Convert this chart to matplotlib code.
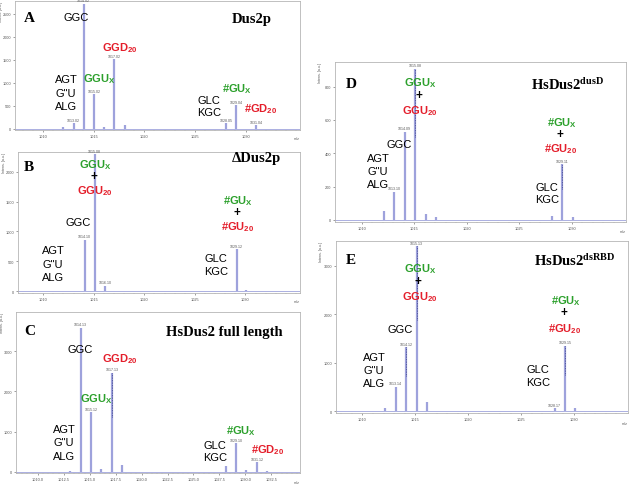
import numpy as np
import matplotlib.pyplot as plt
from matplotlib.ticker import MultipleLocator, FormatStrFormatter

plt.rcParams['font.family'] = ['Liberation Sans', 'DejaVu Sans']
plt.rcParams['mathtext.fontset'] = 'custom'
plt.rcParams['mathtext.rm'] = 'Liberation Sans'
plt.rcParams['mathtext.bf'] = 'Liberation Sans:bold'
plt.rcParams['mathtext.it'] = 'Liberation Serif:bold'

W, H = 630, 485
fig = plt.figure(figsize=(W / 100, H / 100), dpi=100)

peak_col = '#9ea2dc'
green = '#2ca02c'
red = '#e41e2b'

# Peaks per panel: m/z, intensity, printed peak label
A_mz = [1012.0, 1013.02, 1014.02, 1015.02, 1016.05, 1017.02, 1018.1, 1028.05, 1029.04, 1031.04]
A_int = [44, 117, 2720, 752, 30, 1518, 70, 117, 511, 73]
A_lab = ['', '1013.02', '1014.02', '1015.02', '', '1017.02', '', '1028.05', '1029.04', '1031.04']

B_mz = [1014.10, 1015.08, 1016.10, 1029.12, 1030.1]
B_int = [860, 2290, 93, 705, 20]
B_lab = ['1014.10', '1015.08', '1016.10', '1029.12', '']

C_mz = [1013.1, 1014.13, 1015.12, 1016.1, 1017.13, 1018.1, 1028.1, 1029.10, 1030.1, 1031.12, 1032.1]
C_int = [25, 3590, 1490, 70, 2470, 170, 150, 710, 30, 230, 20]
C_lab = ['', '1014.13', '1015.12', '', '1017.13', '', '', '1029.10', '', '1031.12', '']

D_mz = [1012.1, 1013.10, 1014.09, 1015.08, 1016.1, 1017.1, 1028.1, 1029.11, 1030.1]
D_int = [56, 170, 530, 907, 36, 16, 26, 336, 16]
D_lab = ['', '1013.10', '1014.09', '1015.08', '', '', '', '1029.11', '']

E_mz = [1012.1, 1013.14, 1014.12, 1015.13, 1016.1, 1028.17, 1029.15, 1030.1]
E_int = [69, 509, 1320, 3400, 200, 69, 1354, 62]
E_lab = ['', '1013.14', '1014.12', '1015.13', '', '1028.17', '1029.15', '']

# peaks drawn with the dark dotted "picked" overlay
C_pick = [1017.13]
D_pick = [1015.08, 1029.11]
E_pick = [1014.12, 1015.13, 1029.15]

ticks5 = [1010, 1015, 1020, 1025, 1030]
ticksC = [1010.0, 1012.5, 1015.0, 1017.5, 1020.0, 1022.5, 1025.0, 1027.5, 1030.0, 1032.5]


def panel(box, xlim, ylim, ystep, xticks, xminor, xfmt, mz, inten, labs, picks=()):
    l, t, r, b = box
    ax = fig.add_axes([l / W, 1 - b / H, (r - l) / W, (b - t) / H])
    ax.axhline(0, color=peak_col, lw=0.6, zorder=1)
    ax.vlines(mz, 0, inten, color=peak_col, lw=1.6, zorder=2)
    for m, h in zip(mz, inten):
        if m in picks:
            ax.vlines(m, h * 0.55, h, color='#3a3f8a', lw=0.6, ls=(0, (1, 1)), zorder=3)
    for m, h, s in zip(mz, inten, labs):
        if s:
            ax.annotate(s, (m, h), xytext=(0, 1), textcoords='offset points',
                        ha='center', va='bottom', fontsize=2.6, color='#555555')
    ax.set_xlim(*xlim)
    ax.set_ylim(*ylim)
    ax.set_xticks(xticks)
    ax.xaxis.set_minor_locator(MultipleLocator(xminor))
    ax.xaxis.set_major_formatter(FormatStrFormatter(xfmt))
    ax.yaxis.set_major_locator(MultipleLocator(ystep))
    ax.tick_params(labelsize=2.8, length=1.6, width=0.4, colors='#555555', pad=1.2)
    ax.tick_params(which='minor', length=1.0, width=0.3, colors='#777777')
    for sp in ax.spines.values():
        sp.set_color('#b5b5b5')
        sp.set_linewidth(0.6)
    ax.text(-0.05, 1.0, 'Intens. [a.u.]', transform=ax.transAxes, rotation=90,
            ha='center', va='top', fontsize=2.6, color='#555555')
    ax.text(0.99, -0.045, 'm/z', transform=ax.transAxes, ha='center', va='top',
            fontsize=2.6, color='#555555')
    return ax


panel((15, 2, 300, 131), (1007.24, 1035.37), (-31, 2783), 500, ticks5, 1, '%d', A_mz, A_int, A_lab)
panel((18, 153, 300, 294), (1007.5, 1035.4), (-28, 2327), 500, ticks5, 1, '%d', B_mz, B_int, B_lab)
panel((16, 313, 300, 474), (1007.9, 1035.26), (-33, 3980), 1000, ticksC, 0.5, '%.1f', C_mz, C_int, C_lab, C_pick)
panel((335, 63, 626, 223), (1007.46, 1035.17), (-12, 947), 200, ticks5, 1, '%d', D_mz, D_int, D_lab, D_pick)
panel((336, 242, 628, 414), (1007.5, 1035.1), (-35, 3505), 1000, ticks5, 1, '%d', E_mz, E_int, E_lab, E_pick)


def say(s, x, y, kind):
    # x, y: pixel centre of the capital letters
    if kind == 'id':
        fig.text(x / W, 1 - (y + 5) / H, s, ha='center', va='baseline', fontsize=11,
                 family='Liberation Serif', weight='bold')
    elif kind == 't':
        fig.text(x / W, 1 - (y + 4.5) / H, s, ha='center', va='baseline', fontsize=10.5,
                 family='Liberation Serif', weight='bold')
    elif kind == '+':
        fig.text(x / W, 1 - y / H, '+', ha='center', va='center', fontsize=8.5, weight='bold')
    else:
        col = {'k': 'black', 'g': green, 'r': red}[kind]
        fig.text(x / W, 1 - (y + 4) / H, s, ha='center', va='baseline', fontsize=8,
                 color=col, weight='normal' if kind == 'k' else 'bold')


gx = r'GGU$_\mathbf{X}$'
gd = r'GGD$_\mathbf{20}$'
gu = r'GGU$_\mathbf{20}$'
hx = r'#GU$_\mathbf{X}$'
hd = r'#GD$_\mathbf{20}$'
hu = r'#GU$_\mathbf{20}$'

notes = [
    # A
    ('A', 29, 17, 'id'), ('Dus2p', 252, 19, 't'), ('GGC', 76, 17, 'k'), (gd, 120, 48, 'r'),
    ('AGT', 66, 79, 'k'), ('G"U', 66, 93, 'k'), ('ALG', 66, 106, 'k'), (gx, 99, 79, 'g'),
    (hx, 237, 88, 'g'), ('GLC', 209, 100, 'k'), ('KGC', 209, 112, 'k'), (hd, 261, 109, 'r'),
    # B
    ('B', 29, 166, 'id'), ('ΔDus2p', 256, 158, 't'), (gx, 95, 164, 'g'), ('+', 94, 177, '+'),
    (gu, 95, 191, 'r'), ('GGC', 78, 222, 'k'), ('AGT', 53, 250, 'k'), ('G"U', 53, 264, 'k'),
    ('ALG', 53, 277, 'k'), (hx, 238, 200, 'g'), ('+', 237, 213, '+'), (hu, 238, 227, 'r'),
    ('GLC', 216, 258, 'k'), ('KGC', 216, 271, 'k'),
    # C
    ('C', 30, 330, 'id'), ('HsDus2 full length', 224, 332, 't'), ('GGC', 80, 349, 'k'),
    (gd, 120, 359, 'r'), (gx, 96, 398, 'g'), ('AGT', 64, 429, 'k'), ('G"U', 64, 442, 'k'),
    ('ALG', 64, 456, 'k'), (hx, 241, 431, 'g'), ('GLC', 215, 445, 'k'), ('KGC', 215, 457, 'k'),
    (hd, 268, 450, 'r'),
    # D
    ('D', 351, 83, 'id'), (r'HsDus2$^{\mathit{dusD}}$', 568, 86, 't'), (gx, 420, 82, 'g'),
    ('+', 419, 96, '+'), (gu, 420, 110, 'r'), ('GGC', 399, 144, 'k'), ('AGT', 378, 158, 'k'),
    ('G"U', 378, 171, 'k'), ('ALG', 378, 184, 'k'), (hx, 562, 123, 'g'), ('+', 560, 135, '+'),
    (hu, 561, 149, 'r'), ('GLC', 547, 187, 'k'), ('KGC', 547, 199, 'k'),
    # E
    ('E', 351, 259, 'id'), (r'HsDus2$^{\mathit{dsRBD}}$', 575, 261, 't'), (gx, 420, 269, 'g'),
    ('+', 418, 282, '+'), (gu, 420, 296, 'r'), ('GGC', 400, 329, 'k'), ('AGT', 374, 357, 'k'),
    ('G"U', 374, 370, 'k'), ('ALG', 374, 383, 'k'), (hx, 566, 300, 'g'), ('+', 564, 313, '+'),
    (hu, 565, 328, 'r'), ('GLC', 538, 369, 'k'), ('KGC', 538, 382, 'k'),
]
for s, x, y, kind in notes:
    say(s, x, y, kind)

fig.savefig('out.png', dpi=100)
